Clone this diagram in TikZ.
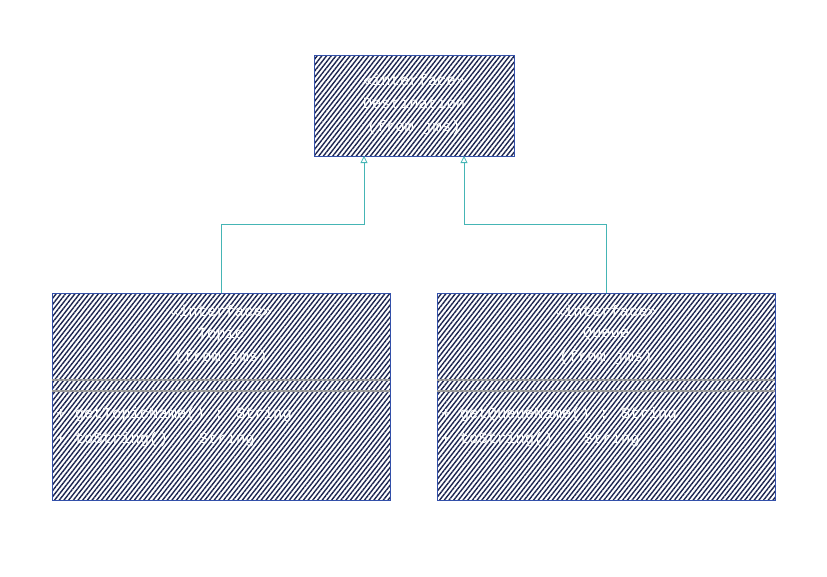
\documentclass[tikz,border=0pt]{standalone}
\usepackage{fontspec}
\setmainfont{Liberation Mono}
\usetikzlibrary{patterns.meta,arrows.meta}
\definecolor{hatch}{HTML}{1C2550}
\definecolor{edge}{HTML}{3350AA}
\definecolor{conn}{HTML}{45B5B5}
\definecolor{sep}{HTML}{999999}
\tikzset{
  umlbox/.style={draw=edge, line width=0.9pt,
    pattern={Lines[angle=52,distance=3.7pt,line width=1.4pt]}, pattern color=hatch},
  txt/.style={text=white, font=\fontsize{15.5}{18}\selectfont, inner sep=0pt},
  sepline/.style={draw=sep, line width=1.2pt},
  gen/.style={draw=conn, line width=0.8pt, -{Triangle[open,length=7pt,width=7pt]}}
}
\begin{document}
\begin{tikzpicture}[x=1pt,y=-1pt]
\useasboundingbox (0,0) rectangle (827,576);
% boxes
\path[umlbox] (314,55) rectangle (514,156);
\coordinate (destL) at (364,156);
\coordinate (destR) at (464,156);
\path[umlbox] (52,293) rectangle (390,500);
\path[umlbox] (437,293) rectangle (775,500);
\draw[sepline] (52,380) -- (390,380);
\draw[sepline] (52,391) -- (390,391);
\draw[sepline] (437,380) -- (775,380);
\draw[sepline] (437,391) -- (775,391);
% texts
\node[txt] (d1) at (414,80) {«interface»};
\node[txt] (d2) at (414,103) {Destination};
\node[txt] (d3) at (414,127) {(from jms)};
\node[txt] (t1) at (221,311) {«interface»};
\node[txt] (t2) at (221,334) {Topic};
\node[txt] (t3) at (221,357) {(from jms)};
\node[txt, anchor=west] (t4) at (56,414) {+ getTopicName() : String};
\node[txt, anchor=west] (t5) at (56,439) {+ toString() : String};
\node[txt] (q1) at (606,311) {«interface»};
\node[txt] (q2) at (606,334) {Queue};
\node[txt] (q3) at (606,357) {(from jms)};
\node[txt, anchor=west] (q4) at (441,414) {+ getQueueName() : String};
\node[txt, anchor=west] (q5) at (441,439) {+ toString() : String};
% connectors
\coordinate (topicTop) at (221,293);
\coordinate (queueTop) at (606,293);
\draw[gen] (topicTop) -- (221,224) -- (364,224) -- (destL);
\draw[gen] (queueTop) -- (606,224) -- (464,224) -- (destR);
\end{tikzpicture}
\end{document}
